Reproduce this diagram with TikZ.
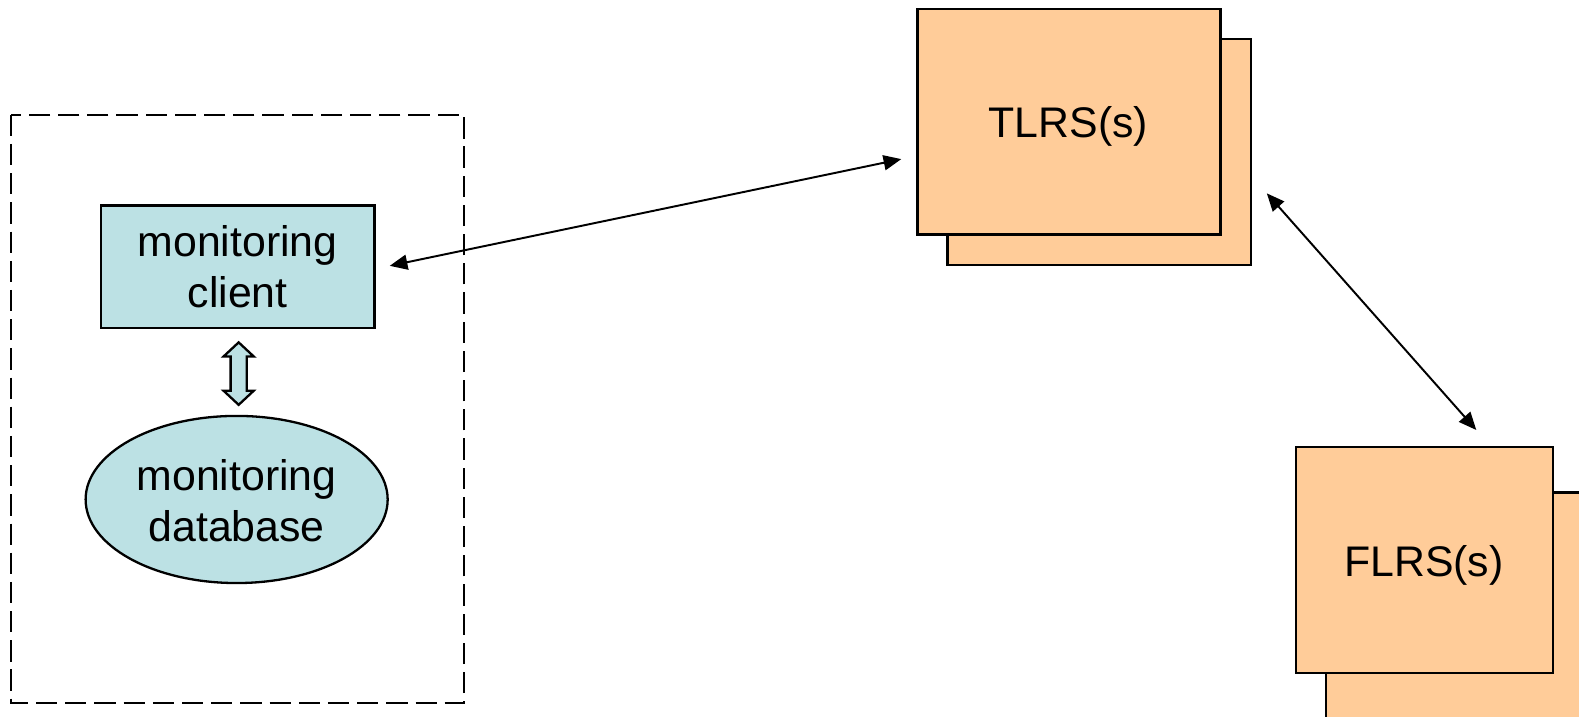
\documentclass[tikz,border=0pt]{standalone}
\usepackage{fontspec}
\setmainfont{Liberation Sans}
\usetikzlibrary{arrows.meta,shapes.geometric}
\definecolor{lblue}{HTML}{BCE1E4}
\definecolor{lorange}{HTML}{FFCC99}
\begin{document}
\begin{tikzpicture}[x=0.02cm,y=-0.02cm,
  box/.style={draw=black,line width=1.3pt},
  lbl/.style={font=\fontsize{24.2}{28.5}\selectfont,align=center,text=black},
  conn/.style={line width=1.1pt,{Triangle[length=10pt,width=8.5pt]}-{Triangle[length=10pt,width=8.5pt]}}]
\useasboundingbox (0,0) rectangle (1568,712);
\begin{scope}
\clip (0,0) rectangle (1568,712);
% dashed container
\draw[line width=1.3pt,dash pattern=on 12pt off 4.5pt] (11,114) rectangle (461,698);
% monitoring client
\draw[box,fill=lblue] (100,204) rectangle (372,326);
\node[lbl] (client) at (236,265) {monitoring\\client};
\coordinate (clientR) at (387,264);
% monitoring database
\node[draw=black,line width=1.3pt,fill=lblue,ellipse,minimum width=6cm,minimum height=3.32cm] (db) at (235,496) {};
\node[lbl] at (235,497) {monitoring\\database};
% double arrow
\draw[line width=1.3pt,fill=lblue,line join=miter]
  (237,340) -- (252,354) -- (245,354) -- (245,388) -- (252,388) -- (237,402)
  -- (222,388) -- (229,388) -- (229,354) -- (222,354) -- cycle;
% TLRS
\draw[box,fill=lorange] (941,39) rectangle (1242,263);
\draw[box,fill=lorange] (911,9) rectangle (1212,233);
\node[lbl] (tlrs) at (1061,126) {TLRS(s)};
\coordinate (tlrsL) at (895,158);
\coordinate (tlrsR) at (1258,192);
% FLRS
\draw[box,fill=lorange] (1317,489) rectangle (1620,760);
\draw[box,fill=lorange] (1287,444) rectangle (1542,668);
\node[lbl] (flrs) at (1414,561) {FLRS(s)};
\coordinate (flrsT) at (1466,427);
% connectors
\draw[conn] (clientR) -- (tlrsL);
\draw[conn] (tlrsR) -- (flrsT);
\end{scope}
\end{tikzpicture}
\end{document}
